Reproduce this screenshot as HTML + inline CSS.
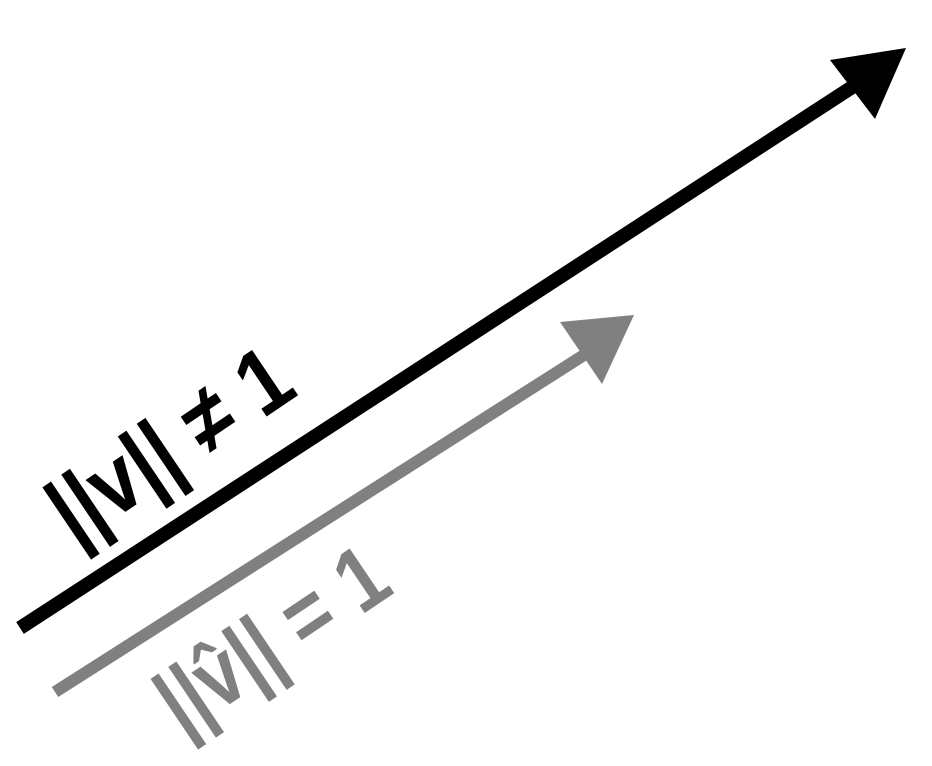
<!DOCTYPE html>
<html><head><meta charset="utf-8"><style>
html,body{margin:0;padding:0;background:#fff;width:932px;height:766px;overflow:hidden}
text{font-family:"Liberation Sans","DejaVu Sans",sans-serif}
</style></head><body>
<svg width="932" height="766" viewBox="0 0 932 766">
  <g>
    <line x1="20" y1="628" x2="860" y2="82" stroke="#000" stroke-width="14"/>
    <polygon points="906,48 830,60 875,119" fill="#000"/>
  </g>
  <g>
    <line x1="55" y1="692" x2="595" y2="348" stroke="#808080" stroke-width="12"/>
    <polygon points="634,315 560,322 602,384" fill="#808080"/>
  </g>
  <text x="0" y="0" transform="translate(300,394) rotate(-34)" text-anchor="end" font-size="92" font-weight="bold" fill="#000" textLength="272" lengthAdjust="spacingAndGlyphs">||v|| ≠ 1</text>
  <text x="0" y="0" transform="translate(396,592) rotate(-34)" text-anchor="end" font-size="90" fill="#808080" font-weight="bold" textLength="258" lengthAdjust="spacingAndGlyphs">||v̂|| = 1</text>
</svg>
</body></html>
